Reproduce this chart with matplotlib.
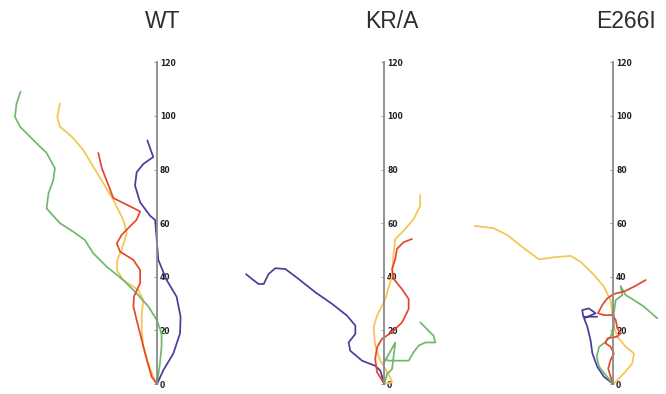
import matplotlib
matplotlib.use("Agg")
import matplotlib.pyplot as plt

# trajectories, x/y in axis units (y axis runs 0-120), all start at origin
titles = ["WT", "KR/A", "E266I"]

# --- WT
wt_purple_x = [0, 2.4, 6.1, 8.6, 8.8, 7.3, 3.6, 0.5, -0.1, -0.7, -2.6, -6.3, -8.2, -7.6, -5.1, -1.4, -3.6]
wt_purple_y = [0, 5.2, 11.4, 18.9, 25.1, 32.6, 38.8, 46.3, 53.7, 61.2, 62.8, 67.8, 74.0, 79.0, 82.1, 84.7, 90.9]
wt_green_x = [0, 1.1, 1.7, 1.7, -0.1, -3.2, -7.6, -12.6, -18.8, -23.8, -26.9, -31.2, -36.2,
              -41.2, -40.5, -38.7, -38.1, -41.2, -46.1, -51.1, -53.0, -52.4, -50.9]
wt_green_y = [0, 7.7, 13.9, 18.9, 23.9, 28.9, 33.8, 38.8, 43.8, 48.8, 53.7, 56.8, 60.0,
              65.5, 71.1, 76.1, 80.5, 86.2, 91.0, 96.0, 99.7, 104.7, 109.1]
wt_yellow_x = [0, -1.4, -3.2, -5.1, -5.7, -5.7, -5.1, -7.0, -12.6, -15.0, -14.8, -13.2, -11.3,
               -11.9, -12.6, -13.8, -16.3, -20.0, -23.8, -27.5, -31.8, -36.2, -37.2, -36.2]
wt_yellow_y = [0, 2.7, 7.7, 13.9, 20.1, 26.4, 31.3, 35.1, 38.8, 42.5, 46.3, 50.0, 56.2,
               58.7, 61.2, 63.7, 68.7, 74.9, 81.1, 87.3, 92.3, 96.0, 99.7, 104.7]
wt_red_x = [0, -2.0, -3.8, -5.7, -7.6, -8.8, -8.6, -6.3, -6.3, -8.8, -13.8, -15.0, -13.2, -10.7,
            -7.6, -6.3, -11.3, -16.3, -18.2, -20.6, -21.9]
wt_red_y = [0, 2.7, 9.0, 16.4, 23.9, 28.9, 32.6, 37.6, 42.5, 46.3, 49.4, 52.5, 55.6, 58.2,
            61.3, 64.4, 66.9, 69.4, 74.4, 80.6, 86.2]

# --- KR/A
kr_purple_x = [0, -1.5, -3.4, -8.3, -12.7, -13.3, -10.8, -10.8, -13.9, -19.5, -25.7, -32.0,
               -36.9, -40.7, -43.2, -45.0, -46.9, -49.4, -51.6]
kr_purple_y = [0, 5.0, 6.8, 8.7, 12.4, 15.5, 18.7, 21.8, 25.5, 29.9, 34.2, 39.2,
               42.9, 43.2, 41.0, 37.3, 37.3, 39.2, 41.0]
kr_yellow_x = [0, 2.9, 2.2, 0.4, -1.5, -3.4, -4.0, -2.7, 0.4, 2.9, 3.5, 4.1, 7.2, 11.0, 13.4, 13.4]
kr_yellow_y = [0, 0.6, 2.5, 5.6, 8.7, 14.3, 21.1, 25.5, 31.7, 40.4, 49.1, 54.1, 57.2, 61.6, 66.5, 70.5]
kr_red_x = [0, -2.7, -3.4, -2.7, -0.9, 2.9, 6.6, 9.1, 9.1, 6.6, 3.5, 2.9, 4.1, 4.7, 7.2, 10.3]
kr_red_y = [0, 4.4, 9.3, 13.7, 16.8, 19.3, 23.0, 28.0, 31.7, 35.4, 39.2, 42.9, 46.6, 50.4, 52.9, 54.1]
kr_green_x = [0, 1.0, 2.9, 4.1, -0.2, 0.4, 1.6, 4.7, 9.1, 10.9, 12.8, 15.3, 19.0, 18.4, 15.9, 13.4]
kr_green_y = [0, 3.7, 5.6, 15.5, 7.8, 9.3, 8.7, 8.7, 8.7, 11.8, 14.3, 15.5, 15.5, 18.0, 20.5, 23.0]

# --- E266I
e_yellow_x = [0, 0.9, 4.0, 7.1, 7.7, 4.6, 1.5, 0.2, -0.4, -1.0, -3.5, -7.2, -12.2, -15.9,
              -22.1, -27.7, -33.3, -39.6, -44.5, -51.7]
e_yellow_y = [0, 0.9, 4.0, 7.7, 11.4, 13.9, 17.7, 21.4, 26.4, 31.3, 36.3, 40.7, 45.6, 47.8,
              47.3, 46.5, 50.6, 55.6, 58.1, 59.0]
e_purple_x = [0, -3.5, -6.0, -7.8, -8.5, -9.7, -10.9, -6.6, -9.1, -11.6, -11.2, -6.0]
e_purple_y = [0, 2.7, 6.5, 11.4, 16.4, 21.4, 24.5, 26.4, 28.2, 27.6, 25.1, 25.1]
e_red_x = [0, -1.0, -1.9, -1.0, 0.2, -1.0, -2.9, -2.2, 1.5, 2.7, 1.5, 0.9, -0.4, -3.5,
           -5.7, -4.1, -2.2, 0.2, 4.0, 7.7, 12.1]
e_red_y = [0, 2.7, 5.8, 9.0, 11.4, 13.9, 15.2, 17.0, 17.7, 18.9, 20.8, 23.9, 25.7, 25.7,
           26.4, 29.5, 32.0, 33.6, 34.5, 36.3, 38.8]
e_green_x = [0, -2.9, -5.3, -6.2, -5.3, -3.5, -1.0, 0.2, 0.2, 0.9, 3.4, 2.7, 4.6, 7.7, 11.4, 16.4]
e_green_y = [0, 3.4, 6.5, 10.2, 13.9, 15.2, 17.7, 21.4, 26.4, 31.3, 33.2, 36.6, 33.2, 31.3, 28.9, 24.5]

colors = {"purple": "#4a3c98", "green": "#72b86c", "yellow": "#f6c451", "red": "#e5472b"}

panels = [
    [("yellow", wt_yellow_x, wt_yellow_y), ("green", wt_green_x, wt_green_y),
     ("red", wt_red_x, wt_red_y), ("purple", wt_purple_x, wt_purple_y)],
    [("purple", kr_purple_x, kr_purple_y), ("yellow", kr_yellow_x, kr_yellow_y),
     ("red", kr_red_x, kr_red_y), ("green", kr_green_x, kr_green_y)],
    [("yellow", e_yellow_x, e_yellow_y), ("purple", e_purple_x, e_purple_y),
     ("green", e_green_x, e_green_y), ("red", e_red_x, e_red_y)],
]

W, H = 666, 394
scale = 2.68          # pixels per unit
axis_px = [157, 384.3, 613.3]
title_px = [162.5, 392, 626.5]
zero_py = 10          # from bottom

fig = plt.figure(figsize=(W / 100, H / 100), dpi=100)

for i, series in enumerate(panels):
    left, right = 222 * i, 222 * (i + 1)
    ax = fig.add_axes([left / W, 0, (right - left) / W, 1])
    ax.set_xlim((left - axis_px[i]) / scale, (right - axis_px[i]) / scale)
    ax.set_ylim(-zero_py / scale, (H - zero_py) / scale)
    ax.patch.set_alpha(0)

    for name, xs, ys in series:
        ax.plot(xs, ys, color=colors[name], lw=1.25, solid_capstyle="round",
                solid_joinstyle="round", clip_on=False)

    for s in ["left", "top", "bottom"]:
        ax.spines[s].set_visible(False)
    ax.spines["right"].set_position(("data", 0))
    ax.spines["right"].set_bounds(0, 120)
    ax.spines["right"].set_color("#8a8a8a")
    ax.spines["right"].set_linewidth(1.3)
    ax.yaxis.tick_right()
    ax.set_yticks(range(0, 121, 20))
    ax.tick_params(axis="y", direction="in", length=2, width=0.6, color="#8a8a8a",
                   labelsize=5.5, pad=2, labelcolor="#222222")
    for lab in ax.get_yticklabels():
        lab.set_fontweight("bold")
    ax.set_xticks([])

    fig.text(title_px[i] / W, 1 - 21 / H, titles[i], ha="center", va="center",
             fontsize=16.5, color="#2e2e2e", family="Liberation Sans")

fig.savefig("out.png", dpi=100)
